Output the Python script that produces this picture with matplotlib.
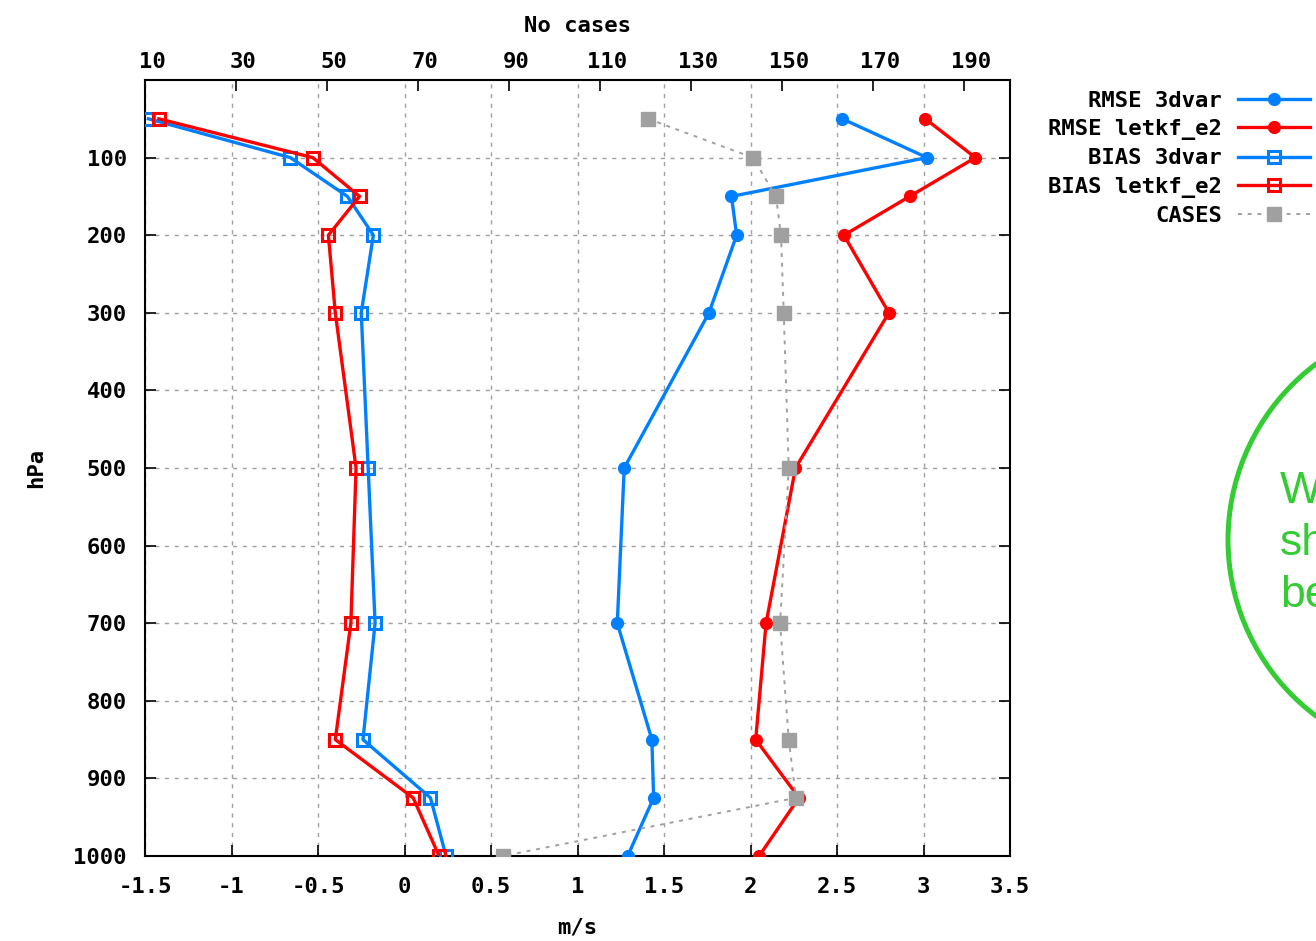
import matplotlib
matplotlib.use("Agg")
import matplotlib.pyplot as plt
from matplotlib.patches import Ellipse
from matplotlib.transforms import ScaledTranslation

# ---- data ----
pressure = [50, 100, 150, 200, 300, 500, 700, 850, 925, 1000]
rmse_3dvar = [2.53, 3.02, 1.89, 1.92, 1.76, 1.27, 1.23, 1.43, 1.44, 1.29]
rmse_letkf = [3.01, 3.30, 2.92, 2.54, 2.80, 2.26, 2.09, 2.03, 2.28, 2.05]
bias_3dvar = [-1.48, -0.66, -0.33, -0.18, -0.25, -0.21, -0.17, -0.24, 0.15, 0.24]
bias_letkf = [-1.42, -0.53, -0.26, -0.44, -0.40, -0.28, -0.31, -0.40, 0.05, 0.20]
cases = [120.5, 143.5, 148.6, 149.7, 150.3, 151.4, 149.5, 151.4, 153.0, 88.6]

x_ticks = [-1.5, -1, -0.5, 0, 0.5, 1, 1.5, 2, 2.5, 3, 3.5]
x_ticklabels = ["-1.5", "-1", "-0.5", "0", "0.5", "1", "1.5", "2", "2.5", "3", "3.5"]
x2_ticks = [10, 30, 50, 70, 90, 110, 130, 150, 170, 190]
y_ticks = [100, 200, 300, 400, 500, 600, 700, 800, 900, 1000]

BLUE = "#0080ff"
RED = "#ff0000"
GRAY = "#a0a0a0"
GREEN = "#33cc33"

FONT = dict(family="DejaVu Sans Mono", weight="bold", size=16)

W, H = 1316, 941
fig = plt.figure(figsize=(W / 100, H / 100), dpi=100)
ax = fig.add_axes([145 / W, 1 - 856 / H, (1010 - 145) / W, (856 - 80) / H])

grid_kw = dict(color=GRAY, lw=1.0, ls=(0, (3, 4)))
ax.set_xlim(-1.5, 3.5)
ax.set_ylim(1000, 0)
ax.set_xticks(x_ticks)
ax.set_xticklabels(x_ticklabels, fontdict=FONT)
ax.set_yticks(y_ticks)
ax.set_yticklabels([str(v) for v in y_ticks], fontdict=FONT)
ax.grid(True, **grid_kw)
ax.set_axisbelow(True)
ax.tick_params(direction="in", length=8, width=1.2, top=True, right=True,
               pad=15, colors="black")
ax.tick_params(axis="y", pad=13)
for s in ax.spines.values():
    s.set_linewidth(1.5)

ax.set_xlabel("m/s", fontdict=FONT, labelpad=15)
ax.set_ylabel("hPa", fontdict=FONT, labelpad=20)

l1, = ax.plot(rmse_3dvar, pressure, color=BLUE, lw=2.4, marker="o", ms=8.5,
              mfc=BLUE, mec=BLUE, label="RMSE 3dvar", zorder=3)
l2, = ax.plot(rmse_letkf, pressure, color=RED, lw=2.4, marker="o", ms=8.5,
              mfc=RED, mec=RED, label="RMSE letkf_e2", zorder=3)
l3, = ax.plot(bias_3dvar, pressure, color=BLUE, lw=2.4, marker="s", ms=9,
              mfc="none", mec=BLUE, mew=2.2, label="BIAS 3dvar", zorder=3)
l4, = ax.plot(bias_letkf, pressure, color=RED, lw=2.4, marker="s", ms=9,
              mfc="none", mec=RED, mew=2.2, label="BIAS letkf_e2", zorder=3)

ax2 = ax.twiny()
ax2.set_xlim(10, 200)
ax2.set_xticks(x2_ticks)
ax2.set_xticklabels([str(v) for v in x2_ticks], fontdict=FONT)
ax2.tick_params(direction="in", length=8, width=1.2, pad=6)
ax2.set_xlabel("No cases", fontdict=FONT, labelpad=14)
offset = ScaledTranslation(7 / 100, 0, fig.dpi_scale_trans)
for lab in ax2.get_xticklabels():
    lab.set_transform(lab.get_transform() + offset)
for s in ax2.spines.values():
    s.set_visible(False)
l5, = ax2.plot(cases, pressure, color=GRAY, lw=1.4, ls=(0, (2, 3)), marker="s",
               ms=10, mfc=GRAY, mec=GRAY, label="CASES", zorder=4)

leg = fig.legend([l1, l2, l3, l4, l5],
                 ["RMSE 3dvar", "RMSE letkf_e2", "BIAS 3dvar", "BIAS letkf_e2", "CASES"],
                 loc="upper right", bbox_to_anchor=(1310 / W, 1 - 91 / H),
                 bbox_transform=fig.transFigure, markerfirst=False, frameon=False,
                 prop=dict(family="DejaVu Sans Mono", weight="bold", size=16),
                 handlelength=3.25, handletextpad=0.72, labelspacing=0.37,
                 borderpad=0, borderaxespad=0, numpoints=1)

# green annotation circle (partially outside the image, as in the original)
circ = Ellipse((1448 / W, 1 - 540 / H), 440 / W, 440 / H, transform=fig.transFigure,
               fill=False, edgecolor=GREEN, lw=3.6)
fig.add_artist(circ)
for txt, yb in [("W", 503), ("sh", 555), ("be", 607)]:
    fig.text(1280 / W, 1 - yb / H, txt, color=GREEN, fontsize=32,
             family="Liberation Sans", va="baseline", ha="left")

fig.savefig("out.png", dpi=100)
